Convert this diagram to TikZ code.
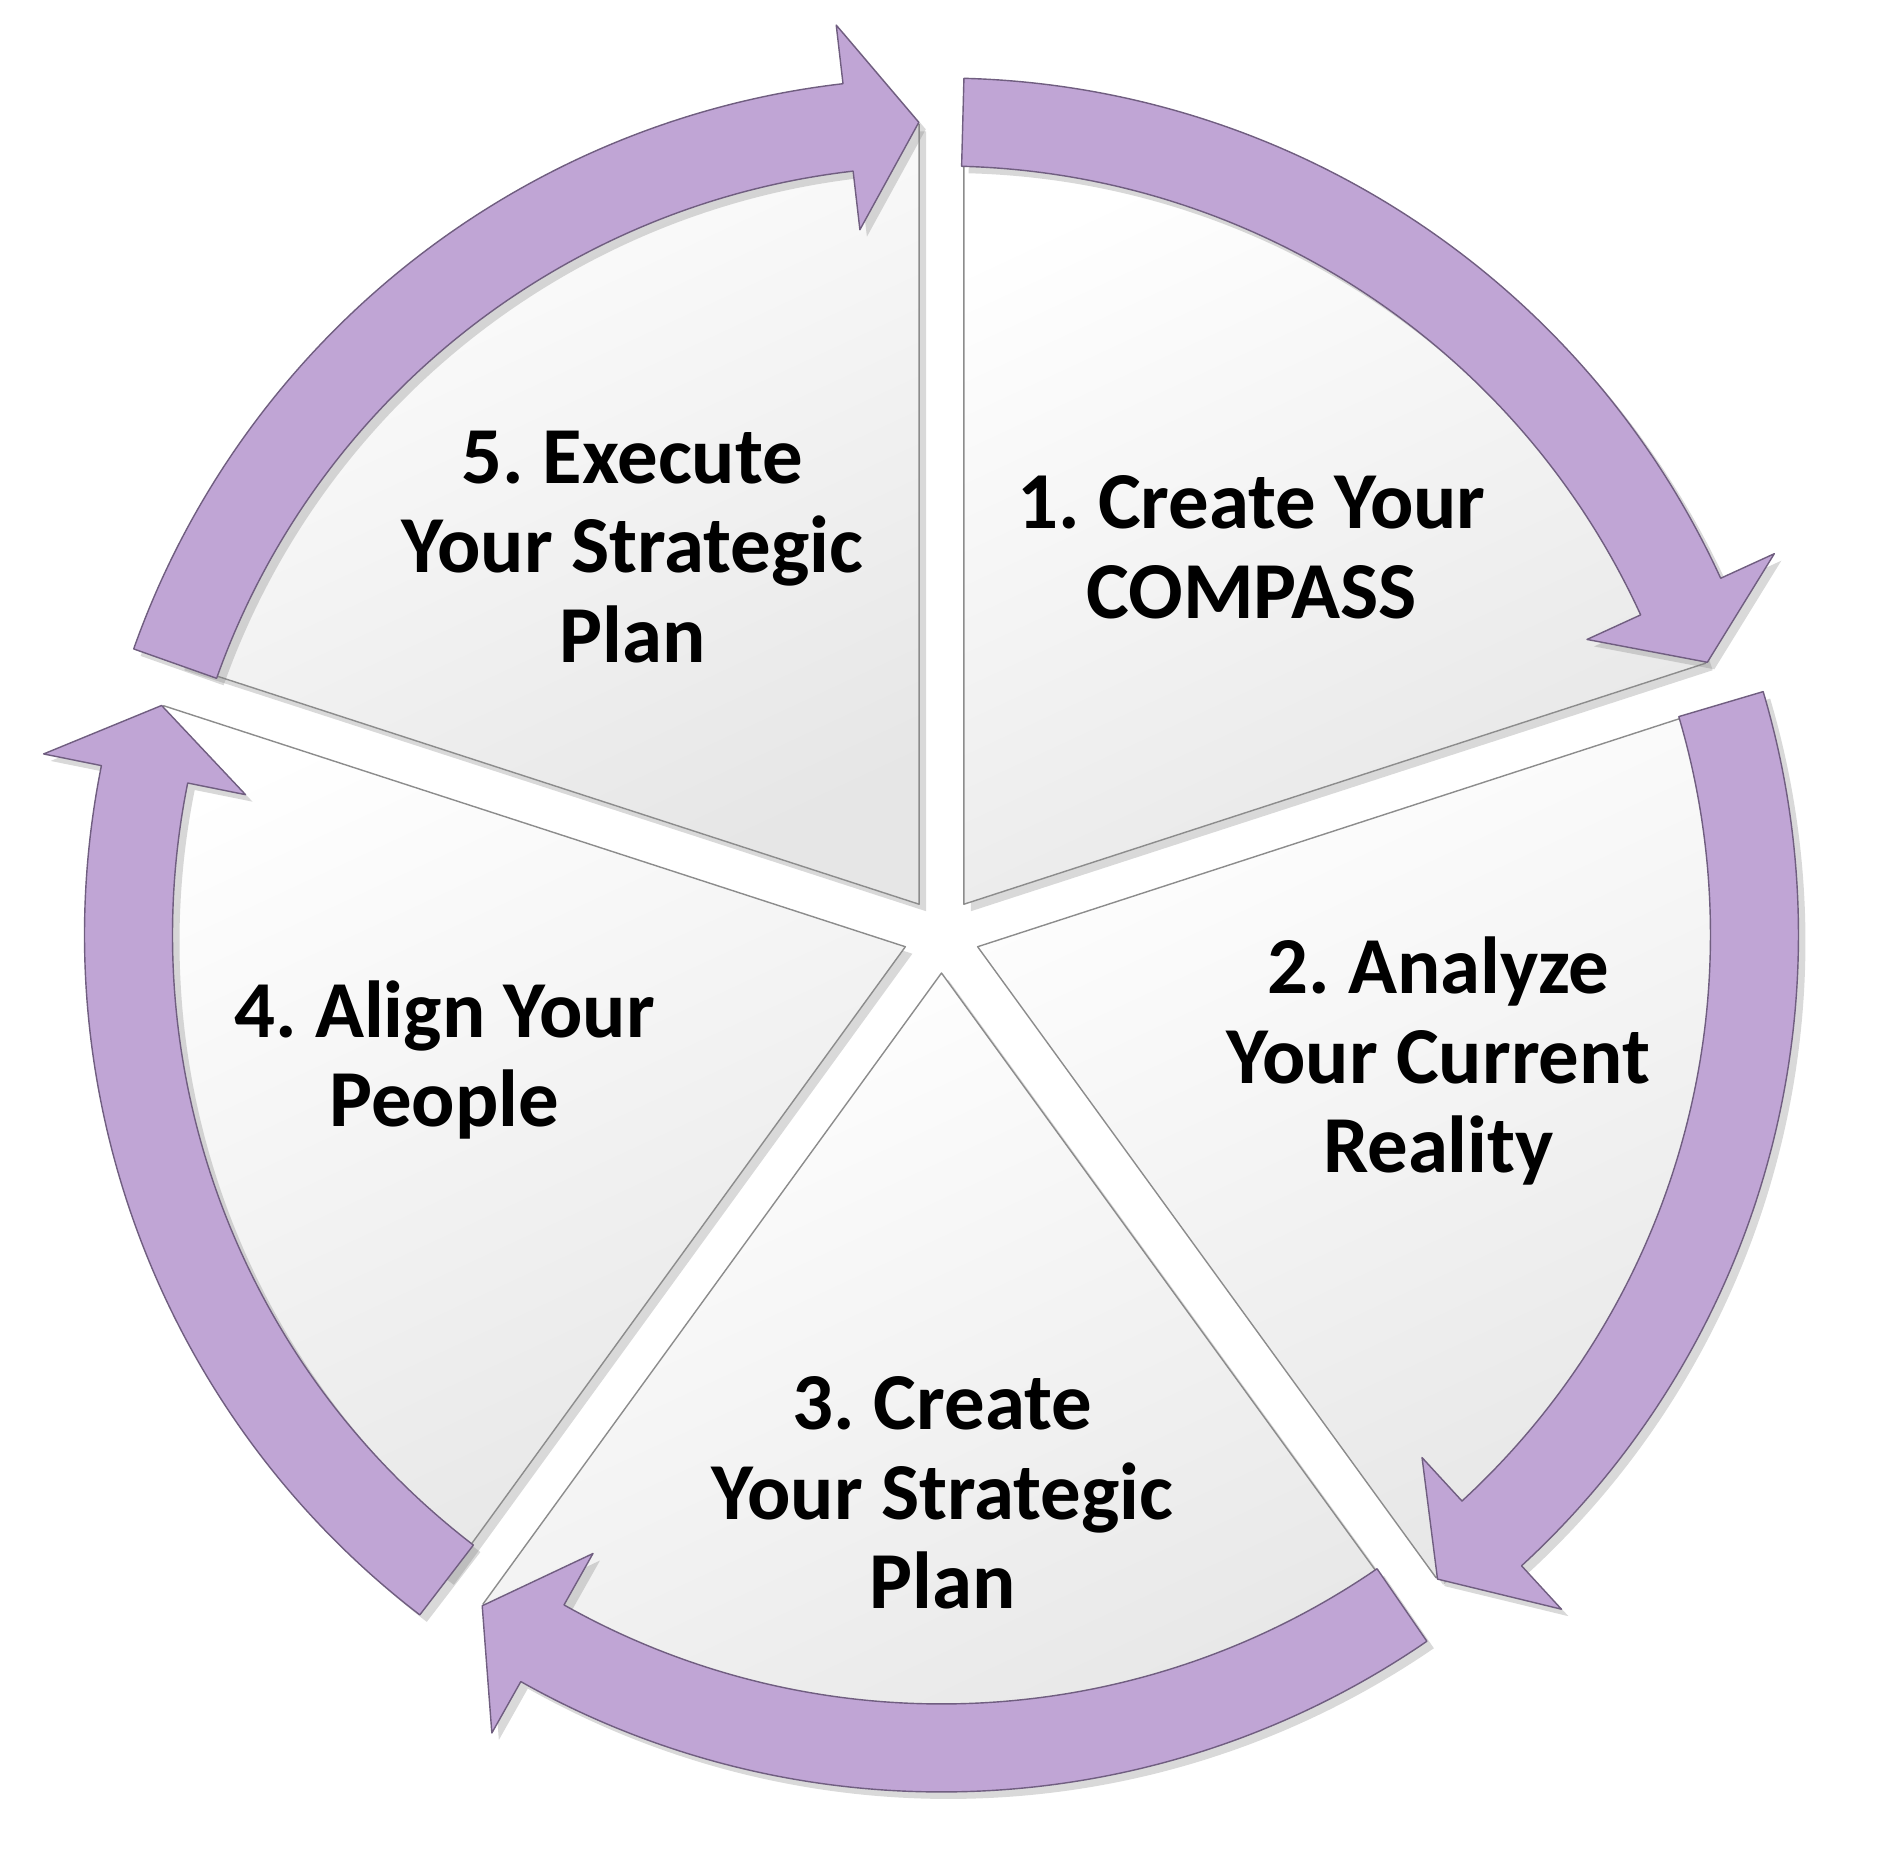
\documentclass[tikz,border=0pt]{standalone}
\usepackage{fontspec}
\setmainfont{Carlito}
\frenchspacing
\definecolor{cyclepurple}{RGB}{192,165,213}
\definecolor{cycleedge}{RGB}{112,94,128}
\definecolor{wedgegray}{RGB}{230,230,230}
\usetikzlibrary{shadows}

\begin{document}
\begin{tikzpicture}[font=\bfseries\fontsize{23}{25.5}\selectfont, line join=round]
  \tikzstyle{wedge}=[draw=black!45, line width=0.4pt, top color=white, bottom color=wedgegray,
                     shading angle=25, drop shadow={shadow xshift=0.07, shadow yshift=-0.07, opacity=0.3}]
  \tikzstyle{turn}=[draw=cycleedge, line width=0.4pt, fill=cyclepurple,
                    drop shadow={shadow xshift=0.07, shadow yshift=-0.07, opacity=0.3}]
  \tikzstyle{stage}=[align=center, text=black]

  \useasboundingbox (-9.415,-9.38) rectangle (9.425,9.35);

  % pie wedges, pushed out from the middle
  \path[wedge] (54:0.38) -- +(90:7.8) arc[start angle=90, end angle=18, radius=7.8] -- cycle;
  \path[wedge] (-18:0.38) -- +(18:7.8) arc[start angle=18, end angle=-54, radius=7.8] -- cycle;
  \path[wedge] (-90:0.38) -- +(-54:7.8) arc[start angle=-54, end angle=-126, radius=7.8] -- cycle;
  \path[wedge] (-162:0.38) -- +(-126:7.8) arc[start angle=-126, end angle=-198, radius=7.8] -- cycle;
  \path[wedge] (126:0.38) -- +(162:7.8) arc[start angle=162, end angle=90, radius=7.8] -- cycle;

  % curved arrows round the ring
  \path[turn] (88.5:8.57) arc[start angle=88.5, end angle=24.6, radius=8.57] -- (24.6:9.16)
        -- (19.6:8.13) -- (24.6:7.10) -- (24.6:7.69) arc[start angle=24.6, end angle=88.5, radius=7.69] -- cycle;
  \path[turn] (16.5:8.57) arc[start angle=16.5, end angle=-47.4, radius=8.57] -- (-47.4:9.16)
        -- (-52.4:8.13) -- (-47.4:7.10) -- (-47.4:7.69) arc[start angle=-47.4, end angle=16.5, radius=7.69] -- cycle;
  \path[turn] (-55.5:8.57) arc[start angle=-55.5, end angle=-119.4, radius=8.57] -- (-119.4:9.16)
        -- (-124.4:8.13) -- (-119.4:7.10) -- (-119.4:7.69) arc[start angle=-119.4, end angle=-55.5, radius=7.69] -- cycle;
  \path[turn] (-127.5:8.57) arc[start angle=-127.5, end angle=-191.4, radius=8.57] -- (-191.4:9.16)
        -- (-196.4:8.13) -- (-191.4:7.10) -- (-191.4:7.69) arc[start angle=-191.4, end angle=-127.5, radius=7.69] -- cycle;
  \path[turn] (160.5:8.57) arc[start angle=160.5, end angle=96.6, radius=8.57] -- (96.6:9.16)
        -- (91.6:8.13) -- (96.6:7.10) -- (96.6:7.69) arc[start angle=96.6, end angle=160.5, radius=7.69] -- cycle;

  \node[stage] (s1) at (3.10,3.88)   {1. Create Your\\COMPASS};
  \node[stage] (s2) at (4.97,-1.26)  {2. Analyze\\Your Current\\Reality};
  \node[stage] (s3) at (0.01,-5.58)  {3. Create\\Your Strategic\\Plan};
  \node[stage] (s4) at (-4.97,-1.25) {4. Align Your\\People};
  \node[stage] (s5) at (-3.09,3.88)  {5. Execute\\Your Strategic\\Plan};
\end{tikzpicture}
\end{document}
